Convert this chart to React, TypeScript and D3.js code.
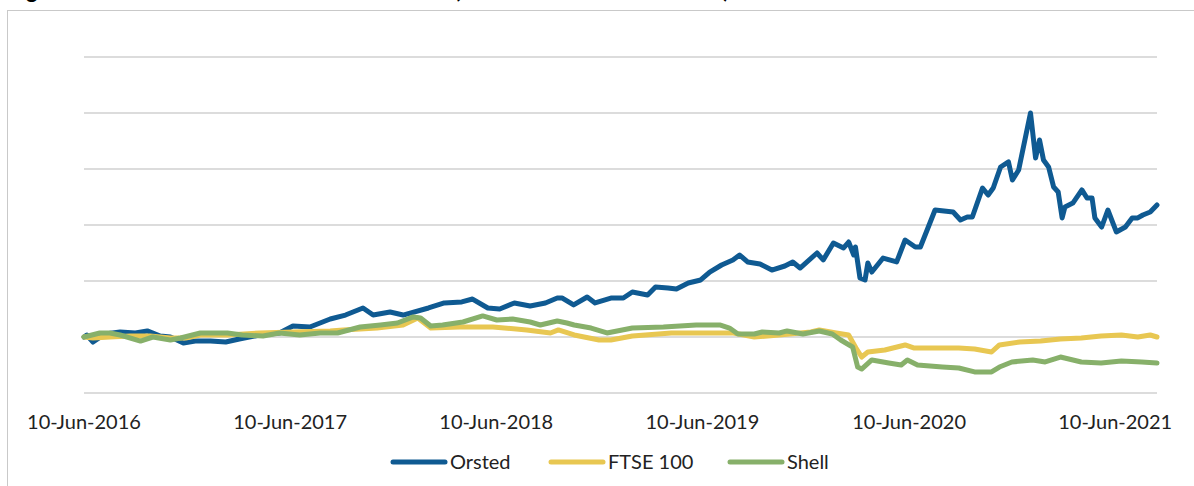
import React, { useRef, useEffect } from 'react';
import * as d3 from 'd3';

// rebased share prices, 10-Jun-2016 = 100
const orsted: [string, number][] = [
  ['2016-06-10', 100], ['2016-06-15', 101.8], ['2016-06-26', 95.5], ['2016-07-17', 102.7],
  ['2016-08-13', 104.5], ['2016-09-09', 103.6], ['2016-09-30', 105.4], ['2016-10-23', 100.9],
  ['2016-11-10', 100], ['2016-12-03', 94.6], ['2016-12-24', 96.4], ['2017-01-20', 96.4],
  ['2017-02-16', 95.5], ['2017-03-12', 98.2], ['2017-04-17', 101.8], ['2017-05-22', 103.6],
  ['2017-06-15', 109.8], ['2017-07-15', 108.9], ['2017-08-20', 116.1], ['2017-09-16', 119.6],
  ['2017-10-17', 125.9], ['2017-11-04', 119.6], ['2017-12-04', 122.3], ['2017-12-27', 119.6],
  ['2018-02-10', 125.9], ['2018-03-10', 130.4], ['2018-04-10', 131.3], ['2018-04-29', 133.9],
  ['2018-05-26', 125.9], ['2018-06-16', 125.0], ['2018-07-12', 130.4], ['2018-08-09', 127.7],
  ['2018-09-05', 130.4], ['2018-09-26', 134.8], ['2018-10-05', 134.8], ['2018-10-25', 128.6],
  ['2018-11-18', 135.7], ['2018-12-02', 130.4], ['2018-12-30', 134.8], ['2019-01-21', 134.8],
  ['2019-02-06', 140.2], ['2019-03-05', 137.5], ['2019-03-19', 144.6], ['2019-04-10', 143.8],
  ['2019-04-25', 142.9], ['2019-05-16', 148.2], ['2019-06-07', 150.9], ['2019-06-23', 158.0],
  ['2019-07-14', 164.3], ['2019-08-03', 168.8], ['2019-08-15', 173.2], ['2019-08-29', 167.0],
  ['2019-09-20', 165.2], ['2019-10-11', 159.8], ['2019-11-03', 163.4], ['2019-11-17', 167.0],
  ['2019-11-30', 161.6], ['2019-12-30', 175.0], ['2020-01-10', 168.8], ['2020-01-28', 183.9],
  ['2020-02-15', 179.5], ['2020-02-24', 184.8], ['2020-03-04', 173.2], ['2020-03-07', 180.4],
  ['2020-03-15', 152.7], ['2020-03-24', 150.9], ['2020-03-29', 166.1], ['2020-04-05', 158.0],
  ['2020-04-25', 170.5], ['2020-05-19', 167.0], ['2020-06-03', 186.6], ['2020-06-21', 180.4],
  ['2020-06-30', 180.4], ['2020-07-26', 213.4], ['2020-08-27', 211.6], ['2020-09-09', 204.5],
  ['2020-09-21', 207.1], ['2020-09-30', 207.1], ['2020-10-18', 233.0], ['2020-10-28', 226.8],
  ['2020-11-06', 233.0], ['2020-11-19', 251.8], ['2020-12-03', 256.3], ['2020-12-10', 240.2],
  ['2020-12-21', 249.1], ['2021-01-11', 300.0], ['2021-01-20', 259.8], ['2021-01-27', 275.9],
  ['2021-02-03', 258.0], ['2021-02-12', 251.8], ['2021-02-21', 233.9], ['2021-03-01', 229.5],
  ['2021-03-08', 206.3], ['2021-03-13', 216.1], ['2021-03-27', 219.6], ['2021-04-12', 231.3],
  ['2021-04-21', 224.1], ['2021-04-30', 224.1], ['2021-05-05', 206.3], ['2021-05-17', 198.2],
  ['2021-05-28', 213.4], ['2021-06-12', 193.8], ['2021-06-28', 198.2], ['2021-07-10', 206.3],
  ['2021-07-20', 206.3], ['2021-07-29', 208.9], ['2021-08-11', 211.6], ['2021-08-23', 217.9],
];

const ftse: [string, number][] = [
  ['2016-06-10', 100], ['2016-06-26', 99.1], ['2016-07-26', 100], ['2016-08-31', 100.9],
  ['2016-10-05', 100.9], ['2016-11-10', 99.1], ['2016-12-07', 99.1], ['2017-01-02', 101.8],
  ['2017-02-19', 101.8], ['2017-04-17', 103.6], ['2017-06-15', 104.5], ['2017-08-20', 105.4],
  ['2017-09-12', 106.3], ['2017-11-11', 108.0], ['2017-12-27', 110.7], ['2018-01-22', 117.0],
  ['2018-02-14', 108.0], ['2018-04-06', 108.9], ['2018-06-04', 108.9], ['2018-08-03', 106.3],
  ['2018-09-14', 103.6], ['2018-09-28', 106.3], ['2018-10-26', 101.8], ['2018-12-09', 97.3],
  ['2018-12-30', 97.3], ['2019-02-06', 100.9], ['2019-04-16', 103.6], ['2019-06-28', 103.6],
  ['2019-08-04', 103.6], ['2019-09-10', 100], ['2019-10-24', 101.8], ['2019-12-19', 104.5],
  ['2020-01-03', 106.3], ['2020-02-02', 103.6], ['2020-02-24', 101.8], ['2020-03-08', 90.2],
  ['2020-03-18', 82.1], ['2020-03-29', 86.6], ['2020-04-28', 88.4], ['2020-06-03', 92.9],
  ['2020-06-18', 90.2], ['2020-07-31', 90.2], ['2020-09-06', 90.2], ['2020-10-04', 89.3],
  ['2020-11-03', 86.6], ['2020-11-17', 92.9], ['2020-12-23', 95.5], ['2021-01-29', 96.4],
  ['2021-03-05', 98.2], ['2021-04-11', 99.1], ['2021-05-16', 100.9], ['2021-06-21', 101.8],
  ['2021-07-20', 100], ['2021-08-11', 101.8], ['2021-08-23', 100],
];

const shell: [string, number][] = [
  ['2016-06-10', 100], ['2016-07-08', 103.6], ['2016-07-26', 103.6], ['2016-08-13', 101.8],
  ['2016-09-18', 96.4], ['2016-10-10', 100], ['2016-11-10', 97.3], ['2016-11-28', 99.1],
  ['2017-01-02', 103.6], ['2017-02-19', 103.6], ['2017-03-17', 101.8], ['2017-04-23', 100.9],
  ['2017-05-22', 103.6], ['2017-06-27', 101.8], ['2017-08-02', 103.6], ['2017-09-02', 103.6],
  ['2017-10-12', 108.9], ['2017-11-17', 110.7], ['2017-12-17', 112.5], ['2018-01-14', 117.9],
  ['2018-01-27', 117.0], ['2018-02-14', 109.8], ['2018-03-07', 110.7], ['2018-04-12', 113.4],
  ['2018-05-17', 118.8], ['2018-06-11', 115.2], ['2018-07-09', 116.1], ['2018-08-09', 113.4],
  ['2018-08-27', 110.7], ['2018-09-26', 114.3], ['2018-10-13', 112.5], ['2018-10-26', 110.7],
  ['2018-11-25', 108.0], ['2018-12-23', 103.6], ['2019-02-06', 108.0], ['2019-04-02', 108.9],
  ['2019-05-30', 110.7], ['2019-07-12', 110.7], ['2019-07-28', 108.0], ['2019-08-12', 102.7],
  ['2019-09-10', 102.7], ['2019-09-24', 104.5], ['2019-10-24', 103.6], ['2019-11-07', 105.4],
  ['2019-12-05', 102.7], ['2020-01-03', 105.4], ['2020-01-26', 102.7], ['2020-02-10', 97.3],
  ['2020-03-02', 91.1], ['2020-03-11', 73.2], ['2020-03-18', 71.4], ['2020-04-05', 79.5],
  ['2020-05-05', 76.8], ['2020-05-27', 75.0], ['2020-06-07', 79.5], ['2020-06-25', 75.0],
  ['2020-08-08', 73.2], ['2020-09-06', 72.3], ['2020-10-04', 68.8], ['2020-11-03', 68.8],
  ['2020-11-17', 73.2], ['2020-12-09', 77.7], ['2021-01-15', 79.5], ['2021-02-06', 77.7],
  ['2021-03-05', 82.1], ['2021-04-11', 77.7], ['2021-05-16', 76.8], ['2021-06-21', 78.6],
  ['2021-07-27', 77.7], ['2021-08-23', 76.8],
];

const seriesNames = ['Orsted', 'FTSE 100', 'Shell'];
const seriesColors = ['#0f5a92', '#e8c752', '#87b06a'];
const xTickDates = ['2016-06-10', '2017-06-10', '2018-06-10', '2019-06-10', '2020-06-10', '2021-06-10'];
const yTicks = [50, 100, 150, 200, 250, 300, 350];
// only the bottom of this line shows in the reference, the rest sits above the page
const title = 'Figure 4: Total shareholder returns for Orsted (indexed to 100 at IPO date)';

const W = 1194;
const H = 486;

function App() {
  const svgRef = useRef<SVGSVGElement>(null);

  useEffect(() => {
    const svg = d3.select(svgRef.current);
    svg.selectAll('*').remove();

    const parse = d3.timeParse('%Y-%m-%d');
    const fmt = d3.timeFormat('%d-%b-%Y');

    const x = d3
      .scaleTime()
      .domain([parse('2016-06-10') as Date, parse('2021-08-23') as Date])
      .range([84, 1157]);
    const y = d3.scaleLinear().domain([50, 350]).range([393, 57]);

    svg.append('rect').attr('width', W).attr('height', H).attr('fill', '#fff');

    svg
      .append('text')
      .attr('x', 8)
      .attr('y', -2)
      .attr('font-family', 'Lato, sans-serif')
      .attr('font-weight', 700)
      .attr('font-size', 22)
      .text(title);

    // chart box
    svg
      .append('rect')
      .attr('x', 7.5)
      .attr('y', 10.5)
      .attr('width', W)
      .attr('height', H)
      .attr('fill', 'none')
      .attr('stroke', '#c9c9c9')
      .attr('stroke-width', 1);

    // gridlines
    svg
      .append('g')
      .selectAll('line')
      .data(yTicks)
      .enter()
      .append('line')
      .attr('x1', x.range()[0])
      .attr('x2', x.range()[1])
      .attr('y1', (d) => y(d))
      .attr('y2', (d) => y(d))
      .attr('stroke', '#d0d0d0')
      .attr('stroke-width', 1.5);

    // x labels
    svg
      .append('g')
      .selectAll('text')
      .data(xTickDates.map((d) => parse(d) as Date))
      .enter()
      .append('text')
      .attr('x', (d) => x(d))
      .attr('y', 429)
      .attr('text-anchor', 'middle')
      .attr('font-family', 'Lato, sans-serif')
      .attr('font-size', 20)
      .attr('fill', '#222')
      .text((d) => fmt(d));

    const line = d3
      .line<[string, number]>()
      .x((d) => x(parse(d[0]) as Date))
      .y((d) => y(d[1]));

    [orsted, ftse, shell].forEach((s, i) => {
      svg
        .append('path')
        .datum(s)
        .attr('d', line)
        .attr('fill', 'none')
        .attr('stroke', seriesColors[i])
        .attr('stroke-width', 5)
        .attr('stroke-linejoin', 'round')
        .attr('stroke-linecap', 'round');
    });

    // legend
    const legendX = [393, 551, 730];
    const lg = svg.append('g');
    seriesNames.forEach((name, i) => {
      lg.append('line')
        .attr('x1', legendX[i])
        .attr('x2', legendX[i] + 52)
        .attr('y1', 462)
        .attr('y2', 462)
        .attr('stroke', seriesColors[i])
        .attr('stroke-width', 5)
        .attr('stroke-linecap', 'round');
      lg.append('text')
        .attr('x', legendX[i] + 57)
        .attr('y', 469)
        .attr('font-family', 'Lato, sans-serif')
        .attr('font-size', 20)
        .attr('fill', '#222')
        .text(name);
    });
  }, []);

  return (
    <div style={{ position: 'fixed', left: 0, top: 0, width: W, height: H, background: '#fff' }}>
      <svg ref={svgRef} width={W} height={H} style={{ display: 'block' }}></svg>
    </div>
  );
}

export default App;
